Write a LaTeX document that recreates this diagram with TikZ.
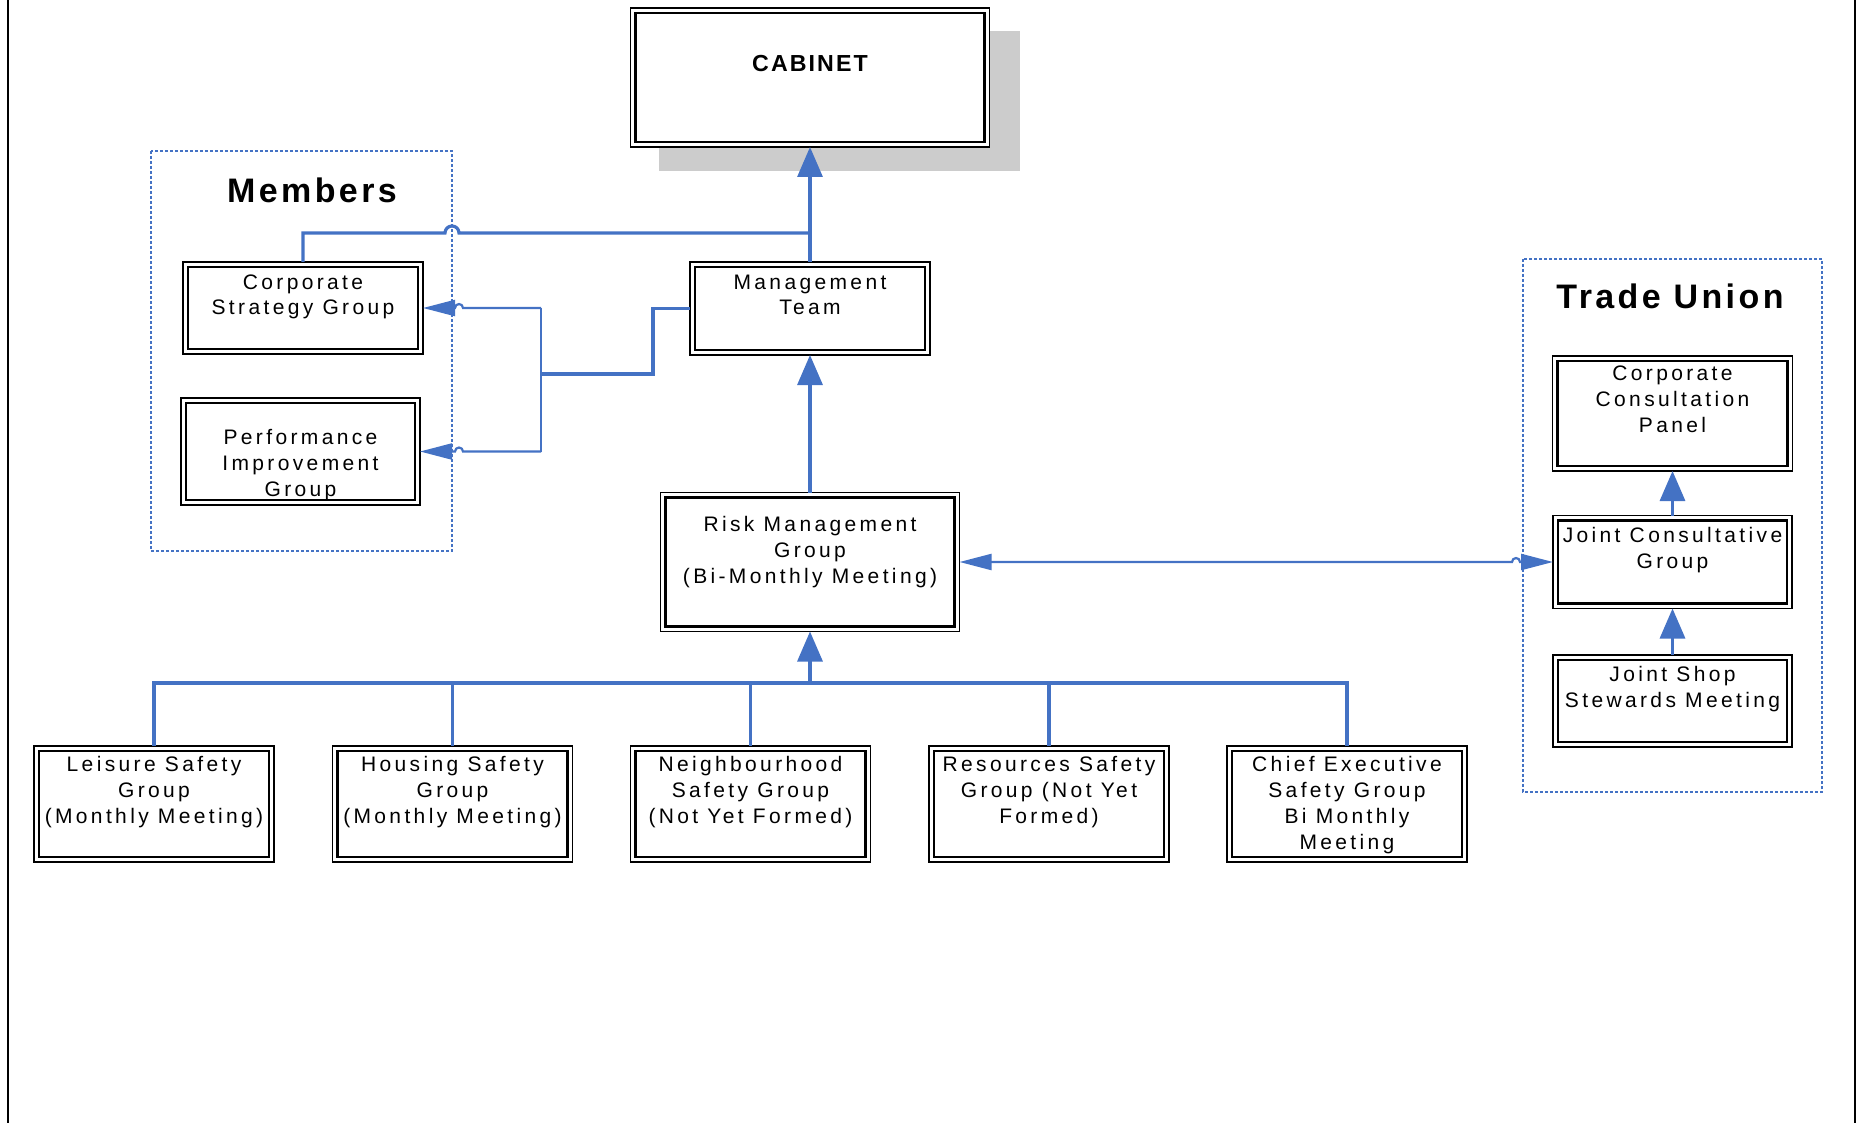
\documentclass[tikz,border=0pt]{standalone}
\usepackage{fontspec}
\setmainfont{Liberation Sans}
\newfontfamily\boxfont[LetterSpace=16]{Liberation Sans}
\newfontfamily\titlefont[LetterSpace=10]{Liberation Sans}
\newfontfamily\cabfont[LetterSpace=9]{Liberation Sans}
\usetikzlibrary{arrows.meta,calc}
\definecolor{conblue}{RGB}{68,114,196}
\definecolor{shadowgray}{RGB}{204,204,204}
% width, height, first-baseline offset, text
\newcommand{\gtext}[4]{\parbox[c][#2][t]{#1}{\centering\fontsize{10.5pt}{13pt}\boxfont\rule{0pt}{#3}#4}}
\tikzset{
  gbox/.style={rectangle, draw=black, line width=0.8pt, fill=white, inner sep=0pt, outer sep=0pt,
    path picture={\draw[line width=1.4pt]
      ($(path picture bounding box.north west)+(2.5pt,-2.5pt)$) rectangle
      ($(path picture bounding box.south east)+(-2.5pt,2.5pt)$);}},
  thickline/.style={draw=conblue, line width=1.6pt, line join=miter},
  thinline/.style={draw=conblue, line width=1.1pt, line join=miter},
  bigtip/.style={-{Triangle[length=15pt,width=12.5pt]}},
  smalltip/.style={-{Triangle[length=16pt,width=8pt]}},
  smallboth/.style={{Triangle[length=16pt,width=8pt]}-{Triangle[length=16pt,width=8pt]}},
  groupbox/.style={draw=conblue, line width=1.3pt, dash pattern=on 1.5pt off 1pt},
  grouptitle/.style={anchor=base, inner sep=0pt, font=\fontsize{17pt}{20pt}\titlefont\bfseries},
}
\begin{document}
\begin{tikzpicture}[x=0.5pt,y=-0.5pt]
\useasboundingbox (0,0) rectangle (1857,1123);
% page frame lines
\draw[line width=1pt] (8,0) -- (8,1123);
\draw[line width=1pt] (1855,0) -- (1855,1123);
% shadow of cabinet
\fill[shadowgray] (659,31) rectangle (1020,171);
% group boxes
\draw[groupbox] (151,151) rectangle (452,551);
\draw[groupbox] (1523,259) rectangle (1822,792);
\node[grouptitle] (memt) at (312,203) {Members};
\node[grouptitle] (tut) at (1670,308) {Trade Union};
% boxes
\node[gbox] (cab) at (810,77.5) {\parbox[c][69.5pt][t]{179.5pt}{\centering\fontsize{11.6pt}{14pt}\cabfont\bfseries\rule{0pt}{32pt}CABINET}};
\node[gbox] (csg) at (303,308) {\gtext{120pt}{46pt}{13.5pt}{Corporate\\Strategy Group}};
\node[gbox] (pig) at (300.5,451.5) {\gtext{119.5pt}{53.5pt}{23pt}{Performance\\Improvement\\Group}};
\node[gbox] (mt) at (810,308.5) {\gtext{120pt}{46.5pt}{13.5pt}{Management\\Team}};
\node[gbox] (rmg) at (810,562) {\gtext{149.5pt}{69.5pt}{19.5pt}{Risk Management\\Group\\(Bi-Monthly Meeting)}};
\node[gbox] (lei) at (154,804) {\gtext{120pt}{58pt}{12.5pt}{Leisure Safety\\Group\\(Monthly Meeting)}};
\node[gbox] (hou) at (452.5,804) {\gtext{120pt}{58pt}{12.5pt}{Housing Safety\\Group\\(Monthly Meeting)}};
\node[gbox] (nei) at (750.5,804) {\gtext{120pt}{58pt}{12.5pt}{Neighbourhood\\Safety Group\\(Not Yet Formed)}};
\node[gbox] (res) at (1049,804) {\gtext{120pt}{58pt}{12.5pt}{Resources Safety\\Group (Not Yet\\Formed)}};
\node[gbox] (chf) at (1347,804) {\gtext{120pt}{58pt}{12.5pt}{Chief Executive\\Safety Group\\Bi Monthly\\Meeting}};
\node[gbox] (ccp) at (1672.5,413.5) {\gtext{120pt}{57.5pt}{12pt}{Corporate\\Consultation\\Panel}};
\node[gbox] (jcg) at (1672.5,562) {\gtext{119.5pt}{46.5pt}{13.5pt}{Joint Consultative\\Group}};
\node[gbox] (jss) at (1672.5,701) {\gtext{119.5pt}{46pt}{13pt}{Joint Shop\\Stewards Meeting}};
% connectors
\coordinate (j1) at (810,233);
\coordinate (m1) at (653,374);
\coordinate (m2) at (541,374);
\coordinate (b1) at (541,308);
\coordinate (b2) at (541,451.5);
\coordinate (bus) at (810,683);
\draw[thickline,bigtip] (mt.north) -- (cab.south);
\draw[thickline] (csg.north) |- (445,233) arc[start angle=180,end angle=0,radius=3.5pt] -- (j1);
\draw[thickline,bigtip] (rmg.north) -- (mt.south);
\draw[thickline] (mt.west) -| (m1) -- (m2);
\draw[thinline] (b1) -- (b2);
\draw[thinline,smalltip] (b1) -- (463,308) arc[start angle=0,end angle=180,radius=2pt] -- (csg.east);
\draw[thinline,smalltip] (b2) -- (463,451.5) arc[start angle=0,end angle=180,radius=2pt] -- (pig.east);
\draw[thinline,smallboth] (rmg.east) -- (1512,562) arc[start angle=180,end angle=0,radius=2pt] -- (jcg.west);
\draw[thickline,bigtip] (jcg.north) -- (ccp.south);
\draw[thickline,bigtip] (jss.north) -- (jcg.south);
\foreach \n in {lei,hou,nei,res,chf} \draw[thickline] (\n.north) |- (bus);
\draw[thickline,bigtip] (bus) -- (rmg.south);
\end{tikzpicture}
\end{document}
